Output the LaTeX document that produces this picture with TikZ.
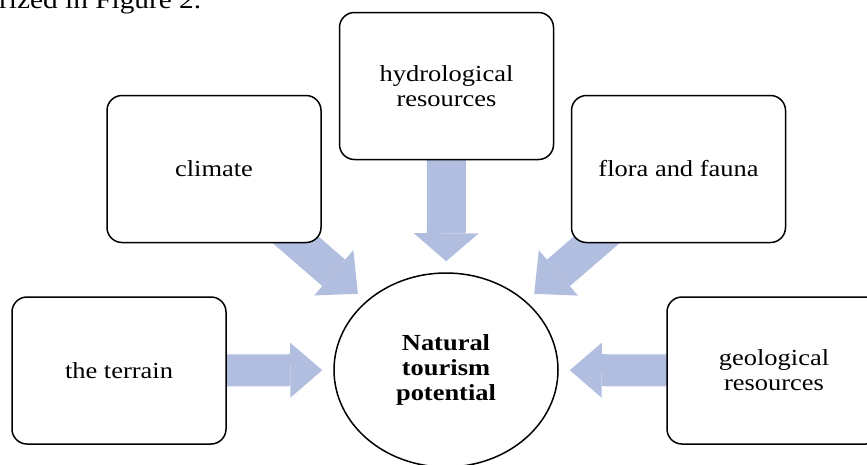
\documentclass[tikz,border=0pt]{standalone}
\usepackage{fontspec}
\setmainfont{Liberation Serif}[FakeStretch=1.15]
\usetikzlibrary{arrows.meta, shapes.geometric, backgrounds}
\definecolor{flowblue}{RGB}{178,190,224}

\begin{document}
\begin{tikzpicture}[x=1pt, y=-1pt,
  box/.style={draw, line width=1.5pt, rounded corners=15pt, fill=white, minimum width=214pt, minimum height=147pt, align=center, font=\fontsize{23}{25}\selectfont},
  hub/.style={draw, ellipse, line width=1.5pt, fill=white, minimum width=224pt, minimum height=194pt, inner sep=0pt, align=center, font=\fontsize{23}{25}\selectfont\bfseries},
  flow/.style={draw=flowblue, shorten <=-30pt, shorten >=11pt},
  flowv/.style={flow, line width=39pt, -{Triangle[length=28pt, width=65pt, line width=0pt, fill=flowblue]}},
  flowh/.style={flow, line width=32pt, -{Triangle[length=32pt, width=55pt, line width=0pt, fill=flowblue]}},
  flowd/.style={flow, line width=35pt, -{Triangle[length=32pt, width=60pt, line width=0pt, fill=flowblue]}}]
\useasboundingbox (0.000000,0.000000) rectangle (867.000000,464.000000);
\clip (0.000000,0.000000) rectangle (867.000000,464.000000);
\node (caption) at (-1.000000,8.500000) [anchor=base west, inner sep=0pt, font=\fontsize{25.5}{28}\selectfont] {rized in Figure 2.};
\node (potential) at (446.000000,370.000000) [hub] {Natural\\tourism\\potential};
\node (hydro) at (446.500000,86.000000) [box] {hydrological\\resources};
\node (climate) at (214.000000,169.000000) [box] {climate};
\node (flora) at (678.500000,169.000000) [box] {flora and fauna};
\node (terrain) at (119.000000,370.500000) [box] {the terrain};
\node (geology) at (774.000000,370.500000) [box] {geological\\resources};
\begin{scope}[on background layer]
\draw [flowv] (hydro) -- (potential);
\draw [flowd] (climate) -- (potential);
\draw [flowd] (flora) -- (potential);
\draw [flowh] (terrain) -- (potential);
\draw [flowh] (geology) -- (potential);
\end{scope}
\end{tikzpicture}
\end{document}
